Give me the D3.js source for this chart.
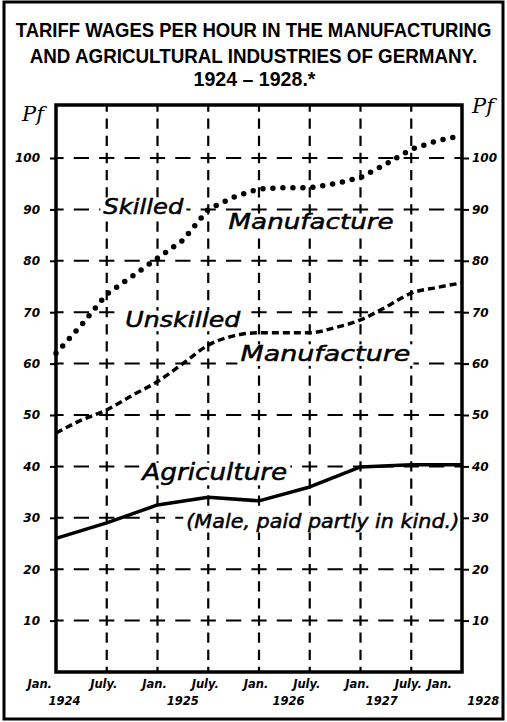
<!DOCTYPE html>
<html><head><meta charset="utf-8">
<script src="https://cdn.jsdelivr.net/npm/d3@7"></script>
<style>
html,body{margin:0;padding:0;background:#fff;}
svg{display:block;}
</style></head>
<body>
<script>
// ---- data ----
const titleLines = ["TARIFF WAGES PER HOUR IN THE MANUFACTURING", "AND AGRICULTURAL INDUSTRIES OF GERMANY.", "1924 – 1928.*"];
const yTicks = [10,20,30,40,50,60,70,80,90,100];
const gridMonths = [6,12,18,24,30,36,42];
const xTickMonths = [0,6,12,18,24,30,36,42,48];
const xTickLabels = ["Jan.","July.","Jan.","July.","Jan.","July.","Jan.","July.","Jan."];
const yearLabels = ["1924","1925","1926","1927","1928"];
const yearMonths = [1,15,27.5,38.5,50.5];
const lineMonths = [0,3,6,9,12,15,18,21,24,27,30,33,36,39,42,45,48];
const skilledValues = [62,67.5,73.5,77,80.5,84,90,92.4,94,94.2,94.2,95,96.2,98.8,101.7,103.3,104.4];
const unskilledValues = [46.5,49,51,53.8,56.5,60,63.6,65.4,66,66,66,67,68.5,71,73.7,74.8,75.7];
const agricultureMonths = [0,6,12,18,24,30,36,42,48];
const agricultureValues = [26,29,32.5,34,33.3,36,39.9,40.3,40.3];
const annotations = [
  {text:"Skilled", m:5.6, v:89.2, w:80, fs:21},
  {text:"Manufacture", m:20.4, v:86.1, w:165, fs:21},
  {text:"Unskilled", m:8.2, v:67.2, w:115, fs:21},
  {text:"Manufacture", m:21.8, v:60.5, w:170, fs:22},
  {text:"Agriculture", m:10.2, v:37.3, w:145, fs:23},
  {text:"(Male, paid partly in kind.)", m:15.4, v:28.0, w:273, fs:20}
];

const W = 507, H = 722;
const svg = d3.select("body").append("svg").attr("width", W).attr("height", H);
svg.append("rect").attr("width", W).attr("height", H).attr("fill", "#fff");

const x = d3.scaleLinear().domain([0,48]).range([56,462]);
const y = d3.scaleLinear().domain([0,100]).range([672,158]);
const yTop = 105;

// outer border
svg.append("rect").attr("x",4).attr("y",2).attr("width",499).attr("height",717)
  .attr("fill","none").attr("stroke","#000").attr("stroke-width",3);

// title (horizontally scaled to fit the reference width)
const titleY = [37, 63, 86];
const titleW = [476, 448, 122];
titleLines.forEach((t,i)=>{
  const tg = svg.append("g");
  const tx = tg.append("text").attr("x", 0).attr("y", 0)
    .attr("text-anchor","middle")
    .attr("font-family","'Liberation Sans', Arial, sans-serif")
    .attr("font-weight","bold").attr("font-size", 19.5)
    .text(t);
  const nat = tx.node().getComputedTextLength();
  const s = Math.min(1.2, titleW[i]/nat);
  tg.attr("transform", `translate(${W/2 + (i==2?1:0)},${titleY[i]}) scale(${s},1)`);
});

// grid
const g = svg.append("g");
const half = (x(6)-x(0))/2;
g.selectAll("line.h").data(yTicks).join("line")
  .attr("x1", x(0)).attr("x2", x(48))
  .attr("y1", d=>y(d)).attr("y2", d=>y(d))
  .attr("stroke","#000").attr("stroke-width",2)
  .attr("stroke-dasharray", `${half*0.6},${half*0.4}`)
  .attr("stroke-dashoffset", half*0.3);
const third = (y(0)-y(10))/3;
g.selectAll("line.v").data(gridMonths).join("line")
  .attr("x1", d=>x(d)).attr("x2", d=>x(d))
  .attr("y1", y(0)).attr("y2", yTop)
  .attr("stroke","#000").attr("stroke-width",2.2)
  .attr("stroke-dasharray", `${third*0.6},${third*0.4}`)
  .attr("stroke-dashoffset", third*0.3);

// annotations (with white background clearing the grid)
const ann = svg.append("g");
annotations.forEach(d=>{
  const bx = x(d.m), by = y(d.v);
  ann.append("rect").attr("x", bx-3).attr("y", by-d.fs*0.76).attr("width", d.w+6).attr("height", d.fs*0.98)
    .attr("fill","#fff");
  ann.append("text").attr("x", bx).attr("y", by)
    .attr("font-family","'DejaVu Sans', sans-serif").attr("font-style","italic")
    .attr("font-size", d.fs)
    .attr("stroke","#000").attr("stroke-width",0.5)
    .attr("textLength", d.w).attr("lengthAdjust","spacingAndGlyphs")
    .attr("fill","#000")
    .text(d.text);
});

// frame
svg.append("rect").attr("x", x(0)).attr("y", yTop).attr("width", x(48)-x(0)).attr("height", y(0)-yTop)
  .attr("fill","none").attr("stroke","#000").attr("stroke-width",3.5);

// axes
const axisFont = "'DejaVu Sans', sans-serif";
const leftAxis = d3.axisLeft(y).tickValues(yTicks).tickSize(6).tickPadding(10).tickFormat(d3.format("d"));
const la = svg.append("g").attr("transform",`translate(${x(0)},0)`).call(leftAxis);
const rightAxis = d3.axisRight(y).tickValues(yTicks).tickSize(7).tickPadding(3).tickFormat(d3.format("d"));
const ra = svg.append("g").attr("transform",`translate(${x(48)},0)`).call(rightAxis);
[la,ra].forEach(a=>{
  a.select(".domain").remove();
  a.selectAll(".tick line").attr("stroke","#000").attr("stroke-width",2);
  a.selectAll(".tick text").attr("font-family",axisFont).attr("font-style","italic")
    .attr("font-weight","bold").attr("font-size",12).attr("fill","#000");
});

// Pf labels
svg.append("text").attr("x",22).attr("y",121).attr("font-family","'DejaVu Serif', serif")
  .attr("font-style","italic").attr("font-size",21).text("Pf");
svg.append("text").attr("x",472).attr("y",113).attr("font-family","'DejaVu Serif', serif")
  .attr("font-style","italic").attr("font-size",21).text("Pf");

// bottom month ticks labels
const lab = svg.append("g").attr("font-family",axisFont).attr("font-style","italic")
  .attr("font-weight","bold").attr("font-size",11.5);
lab.selectAll("text.m").data(xTickMonths).join("text")
  .attr("x", (d,i)=> i==0 ? x(d)-4 : (i==8 ? x(d)-10 : x(d)-3))
  .attr("y", 688)
  .attr("text-anchor", (d,i)=> (i==0||i==8) ? "end" : "middle")
  .text((d,i)=>xTickLabels[i]);
lab.selectAll("text.yr").data(yearMonths).join("text")
  .attr("x", d=>x(d)).attr("y", 705).attr("text-anchor","middle")
  .text((d,i)=>yearLabels[i]);

// series
const lineGen = d3.line().x(d=>x(d[0])).y(d=>y(d[1]));
svg.append("path").datum(lineMonths.map((m,i)=>[m,skilledValues[i]]))
  .attr("d", lineGen).attr("fill","none").attr("stroke","#000")
  .attr("stroke-width",5.5).attr("stroke-linecap","round").attr("stroke-dasharray","0,10");
svg.append("path").datum(lineMonths.map((m,i)=>[m,unskilledValues[i]]))
  .attr("d", d3.line().x(d=>x(d[0])).y(d=>y(d[1])).curve(d3.curveMonotoneX)).attr("fill","none").attr("stroke","#000")
  .attr("stroke-width",3.5).attr("stroke-dasharray","7,4");
svg.append("path").datum(agricultureMonths.map((m,i)=>[m,agricultureValues[i]]))
  .attr("d", d3.line().x(d=>x(d[0])).y(d=>y(d[1]))).attr("fill","none").attr("stroke","#000")
  .attr("stroke-width",3.5).attr("stroke-linejoin","round");
</script>
</body></html>
